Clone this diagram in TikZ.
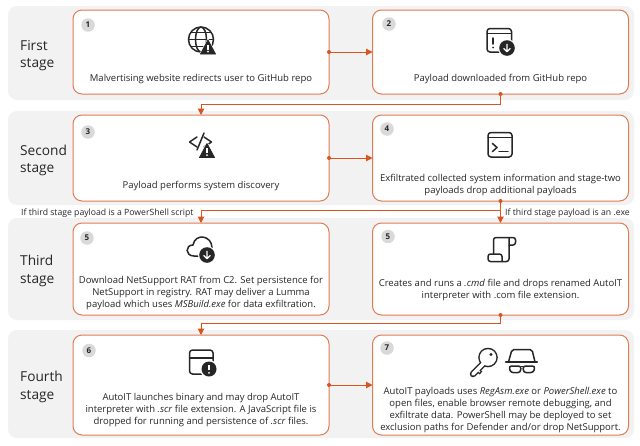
\documentclass[tikz,border=0pt]{standalone}
\usepackage{fontspec}
\setmainfont{Open Sans}
\usetikzlibrary{arrows.meta}
\definecolor{panelc}{HTML}{F2F2F2}
\definecolor{edgec}{HTML}{E07B55}
\definecolor{connc}{HTML}{D9541E}
\definecolor{darkc}{HTML}{262626}
\definecolor{badgec}{HTML}{D9D9D9}
\tikzset{
  panel/.style={fill=panelc,draw=none,rounded corners=9pt,anchor=north west,inner sep=0pt,outer sep=0pt},
  box/.style={draw=edgec,fill=white,line width=1pt,rounded corners=9pt,inner sep=0pt,outer sep=0pt,minimum width=256pt},
  conn/.style={draw=connc,line width=1pt,-{Triangle[length=6.5pt,width=6.5pt]}},
  dot/.style={fill=connc,draw=none},
  body/.style={align=center,inner sep=0pt,font=\fontsize{9.5}{12}\selectfont,text=darkc},
  stage/.style={align=left,anchor=west,inner sep=0pt,font=\fontsize{13.7}{17.5}\selectfont,text=darkc},
  note/.style={inner sep=0pt,font=\fontsize{8.67}{10}\selectfont,text=darkc},
  badge/.style={circle,fill=badgec,minimum size=13.5pt,inner sep=0pt,font=\fontsize{8}{9}\bfseries\selectfont,text=darkc},
  ico/.style={draw=darkc,line width=1.5pt,line cap=round,line join=round},
  warnpic/.pic={
    \fill[white,draw=white,line width=2pt,line join=round] (0,0) -- (7.5,14) -- (-7.5,14) -- cycle;
    \fill[darkc,draw=darkc,line width=.8pt,line join=round] (0,0) -- (7.5,14) -- (-7.5,14) -- cycle;
    \draw[white,line width=1.5pt] (0,4.8) -- (0,9.5);
    \fill[white] (0,11.6) circle (1pt);
  },
  downpic/.pic={
    \fill[white] (0,0) circle (9pt);
    \fill[darkc] (0,0) circle (7.8pt);
    \draw[white,line width=1.2pt,line cap=round,line join=round] (0,-3.8) -- (0,3.5) (-3.2,0.6) -- (0,3.7) -- (3.2,0.6);
  },
}
\begin{document}
\begin{tikzpicture}[x=1pt,y=-1pt]
\useasboundingbox (0,0) rectangle (640,445);
\fill[white] (0,0) rectangle (640,445);
% panels
\node[panel,minimum width=626pt,minimum height=94pt] (p1) at (8,6) {};
\node[panel,minimum width=626pt,minimum height=94pt] (p2) at (8,111) {};
\node[panel,minimum width=626pt,minimum height=102pt] (p3) at (8,218) {};
\node[panel,minimum width=626pt,minimum height=108pt] (p4) at (8,330) {};
% boxes
\node[box,minimum height=84pt] (b1) at (201,52) {};
\node[box,minimum height=84pt] (b2) at (500.5,52) {};
\node[box,minimum height=86pt] (b3) at (201,158) {};
\node[box,minimum height=86pt] (b4) at (500.5,158) {};
\node[box,minimum height=92pt] (b5) at (201,269) {};
\node[box,minimum height=92pt] (b5r) at (500.5,269) {};
\node[box,minimum height=100pt] (b6) at (201,385) {};
\node[box,minimum height=100pt] (b7) at (500.5,385) {};
% stage labels
\node[stage] (s1) at (20,55.5) {First\\stage};
\node[stage] (s2) at (20,160.5) {Second\\stage};
\node[stage] (s3) at (20,271) {Third\\stage};
\node[stage] (s4) at (20,387) {Fourth\\stage};
% badges
\node[badge] (n1) at (88,25) {1};
\node[badge] (n2) at (389,24) {2};
\node[badge] (n3) at (88,132) {3};
\node[badge] (n4) at (387,129) {4};
\node[badge] (n5) at (87,238) {5};
\node[badge] (n5r) at (388,236.5) {5};
\node[badge] (n6) at (89,350.5) {6};
\node[badge] (n7) at (387,348) {7};
% body text
\node[body] (t1) at (201,79) {Malvertising website redirects user to GitHub repo};
\node[body] (t2) at (500.5,79) {Payload downloaded from GitHub repo};
\node[body] (t3) at (201,186) {Payload performs system discovery};
\node[body] (t4) at (500.5,185.5) {Exfiltrated collected system information and stage-two\\payloads drop additional payloads};
\node[body] (t5) at (201,293) {Download NetSupport RAT from C2. Set persistence for\\NetSupport in registry. RAT may deliver a Lumma\\payload which uses \textit{MSBuild.exe} for data exfiltration.};
\node[body] (t5r) at (500.5,290.5) {Creates and runs a \textit{.cmd} file and drops renamed AutoIT\\interpreter with .com file extension.};
\node[body] (t6) at (201,410) {AutoIT launches binary and may drop AutoIT\\interpreter with \textit{.scr} file extension. A JavaScript file is\\dropped for running and persistence of \textit{.scr} files.};
\node[body] (t7) at (500.5,410) {AutoIT payloads uses \textit{RegAsm.exe} or \textit{PowerShell.exe} to\\open files, enable browser remote debugging, and\\exfiltrate data. PowerShell may be deployed to set\\exclusion paths for Defender and/or drop NetSupport.};
% notes
\node[note,anchor=west] (q1) at (21,213) {If third stage payload is a PowerShell script};
\node[note,anchor=west] (q2) at (505,213) {If third stage payload is an .exe};
% connectors
\draw[conn] (b1.east) -- (b2.west);
\draw[conn] (b3.east) -- (b4.west);
\draw[conn] (b6.east) -- (b7.west);
\draw[conn] (b2.south) -- ++(0,10) -| (b3.north);
\draw[conn] (b4.south) -- (b5r.north);
\coordinate (fork) at (500.5,210);
\draw[conn] (fork) -| (b5.north);
\draw[conn] (b5r.south) -- ++(0,8) -| (b6.north);
\foreach \d in {b1.east,b3.east,b6.east,b2.south,b4.south,b5r.south}
  \fill[dot] (\d) circle (2pt);
% icon 1: globe
\begin{scope}[ico]
\draw (201,39.5) circle (12.5pt);
\draw (201,39.5) ellipse (5.5pt and 12.5pt);
\draw (188.5,39.5) -- (213.5,39.5);
\draw (191,32.5) -- (211,32.5);
\draw (191,46.5) -- (211,46.5);
\end{scope}
\pic at (208,40) {warnpic};
% icon 2
\begin{scope}[ico]
\draw[rounded corners=3pt] (487,28.5) rectangle (511.5,52);
\draw (487,33.5) -- (511.5,33.5);
\draw (493,38) -- (493,44);
\fill[darkc,draw=none] (493,47.5) circle (1pt);
\end{scope}
\pic at (507,48) {downpic};
% icon 3
\begin{scope}[ico]
\draw (197,137) -- (189.5,142) -- (197,147);
\draw (204,137) -- (211.5,142) -- (204,147);
\draw (197,150) -- (204,133);
\end{scope}
\pic at (207,143.5) {warnpic};
% icon 4
\begin{scope}[ico]
\draw[rounded corners=3pt] (488,132.5) rectangle (512,157);
\draw (488,137.5) -- (512,137.5);
\draw (492.5,143.5) -- (497,147.5) -- (492.5,151.5);
\draw (499,151.5) -- (508,151.5);
\end{scope}
% icon 5 left: cloud
\begin{scope}[ico]
\draw (200,256) -- (194,256) .. controls (185,256) and (185,245) .. (193,245) .. controls (195,233) and (212,235) .. (212,248);
\end{scope}
\pic at (207,255) {downpic};
% icon 5 right: scroll
\begin{scope}[ico]
\draw[rounded corners=2.5pt] (493.5,254) -- (493.5,237.5) -- (515.5,237.5) -- (515.5,245) -- (509,245);
\draw[rounded corners=2.5pt] (509,238) -- (509,261.5) -- (488,261.5) -- (488,254) -- (502,254) -- (502,261.5);
\end{scope}
% icon 6
\begin{scope}[ico]
\draw[rounded corners=3pt] (189.5,350) rectangle (213,374);
\draw (189.5,358) -- (213,358);
\end{scope}
\fill[white] (209,369) circle (9pt);
\fill[darkc] (209,369) circle (7.5pt);
\draw[white,line width=1.5pt] (209,364.8) -- (209,369.8);
\fill[white] (209,372.8) circle (1pt);
% icon 7: key
\begin{scope}
\draw[darkc,line width=6.5pt,line cap=round] (483,364) -- (473,374);
\draw[darkc,line width=4pt] (477,369.5) -- (481,373);
\fill[darkc] (488,357.5) circle (9.8pt);
\draw[white,line width=3.6pt,line cap=round] (484,363) -- (473,374);
\draw[white,line width=1.4pt] (477,369.5) -- (480,372);
\fill[white] (488,357.5) circle (8.3pt);
\fill[darkc] (491,354.5) circle (1.6pt);
\end{scope}
% icon 7: spy
\begin{scope}[ico]
\draw[rounded corners=2pt] (508.5,362) -- (512,349.5) -- (532,349.5) -- (535,362);
\draw[line width=2.6pt] (506,362) -- (537,362);
\draw[rounded corners=2.5pt] (509,366) -- (521,366) -- (520.5,372.5) -- (510.5,372.5) -- cycle;
\draw[rounded corners=2.5pt] (523,366) -- (535,366) -- (533.5,372.5) -- (523.5,372.5) -- cycle;
\draw (521,366.5) -- (523,366.5);
\end{scope}
\end{tikzpicture}
\end{document}
